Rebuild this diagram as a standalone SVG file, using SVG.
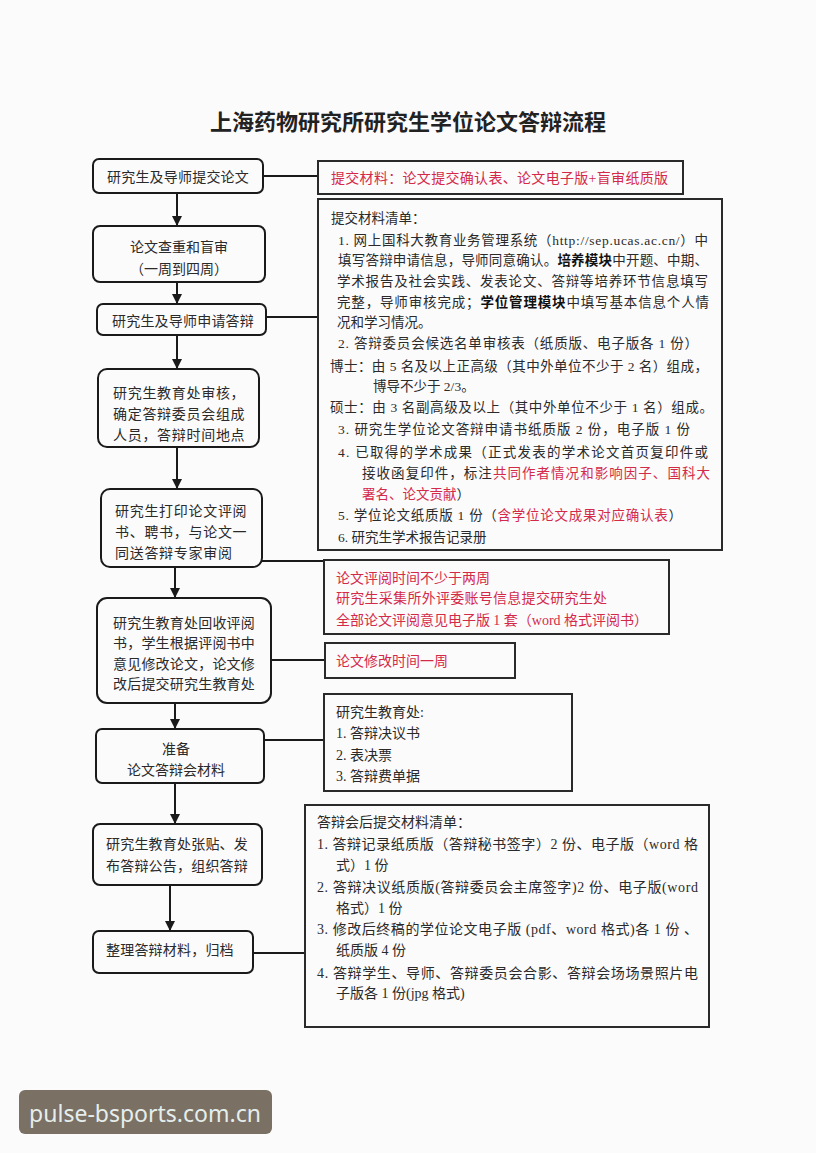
<svg xmlns="http://www.w3.org/2000/svg" width="816" height="1153" viewBox="0 0 816 1153">
<defs>
<marker id="arr" viewBox="0 0 10 10" refX="10" refY="5" markerWidth="10" markerHeight="10" markerUnits="userSpaceOnUse" orient="auto">
<path d="M0,0 L10,5 L0,10 Z" fill="#1a1a1a"/>
</marker>
<style>
.bg{fill:#fcfbfc}
.node{fill:#fcfbfc;stroke:#1a1a1a;stroke-width:2}
.box{fill:#fcfbfc;stroke:#2a2a2a;stroke-width:2}
.t{font-family:"Noto Sans CJK SC","Liberation Sans",sans-serif;font-size:14px;fill:#2a2a2a;dominant-baseline:central}
.c{text-anchor:middle}
.s{font-family:"Liberation Serif","Noto Sans CJK SC",serif;font-size:13.5px;fill:#2a2a2a;dominant-baseline:central}
.s14{font-size:14px}
.r{fill:#d42a4a}
.b{font-weight:bold;fill:#111}
.title{font-family:"Noto Sans CJK SC",sans-serif;font-size:22px;font-weight:bold;fill:#222;text-anchor:middle;dominant-baseline:central}
.ln{stroke:#1a1a1a;stroke-width:2;fill:none}
</style>
</defs>
<rect class="bg" x="0" y="0" width="816" height="1153"/>
<text class="title" x="408" y="120">上海药物研究所研究生学位论文答辩流程</text>

<g id="connectors">
<line class="ln" x1="177" y1="193" x2="177" y2="226" marker-end="url(#arr)"/>
<line class="ln" x1="177" y1="282" x2="177" y2="304" marker-end="url(#arr)"/>
<line class="ln" x1="177" y1="335" x2="177" y2="369" marker-end="url(#arr)"/>
<line class="ln" x1="177" y1="447" x2="177" y2="489" marker-end="url(#arr)"/>
<line class="ln" x1="175" y1="567" x2="175" y2="598" marker-end="url(#arr)"/>
<line class="ln" x1="175" y1="703" x2="175" y2="729" marker-end="url(#arr)"/>
<line class="ln" x1="175" y1="783" x2="175" y2="824" marker-end="url(#arr)"/>
<line class="ln" x1="170" y1="885" x2="170" y2="931" marker-end="url(#arr)"/>
<line class="ln" x1="263" y1="176" x2="318" y2="176"/>
<line class="ln" x1="266" y1="317" x2="318" y2="317"/>
<line class="ln" x1="262" y1="561" x2="324" y2="561"/>
<line class="ln" x1="271" y1="660" x2="325" y2="660"/>
<line class="ln" x1="264" y1="740" x2="324" y2="740"/>
<line class="ln" x1="253" y1="953" x2="305" y2="953"/>
</g>

<g id="n1">
<rect class="node" x="93" y="159" width="170" height="34" rx="6"/>
<text class="t c" x="178" y="176" letter-spacing="0.2">研究生及导师提交论文</text>
</g>
<g id="n2">
<rect class="node" x="93" y="226" width="172" height="56" rx="7"/>
<text class="t c" x="179" y="246">论文查重和盲审</text>
<text class="t c" x="179" y="268">（一周到四周）</text>
</g>
<g id="n3">
<rect class="node" x="97" y="304" width="169" height="31" rx="6"/>
<text class="t c" x="183" y="320" letter-spacing="0.2">研究生及导师申请答辩</text>
</g>
<g id="n4">
<rect class="node" x="98" y="369" width="161" height="78" rx="9"/>
<text class="t" x="113" y="392" letter-spacing="0.7">研究生教育处审核，</text>
<text class="t" x="113" y="413" letter-spacing="0.7">确定答辩委员会组成</text>
<text class="t" x="113" y="434" letter-spacing="0.7">人员，答辩时间地点</text>
</g>
<g id="n5">
<rect class="node" x="101" y="489" width="161" height="78" rx="9"/>
<text class="t" x="115" y="510" letter-spacing="0.7">研究生打印论文评阅</text>
<text class="t" x="115" y="531" letter-spacing="0.7">书、聘书，与论文一</text>
<text class="t" x="115" y="552" letter-spacing="0.7">同送答辩专家审阅</text>
</g>
<g id="n6">
<rect class="node" x="97" y="598" width="174" height="105" rx="10"/>
<text class="t" x="113" y="622" letter-spacing="0.2">研究生教育处回收评阅</text>
<text class="t" x="113" y="642" letter-spacing="0.2">书，学生根据评阅书中</text>
<text class="t" x="113" y="663" letter-spacing="0.2">意见修改论文，论文修</text>
<text class="t" x="113" y="683" letter-spacing="0.2">改后提交研究生教育处</text>
</g>
<g id="n7">
<rect class="node" x="96" y="729" width="168" height="54" rx="6"/>
<text class="t c" x="176" y="748">准备</text>
<text class="t c" x="176" y="769">论文答辩会材料</text>
</g>
<g id="n8">
<rect class="node" x="93" y="824" width="169" height="61" rx="7"/>
<text class="t" x="106" y="843" letter-spacing="0.2">研究生教育处张贴、发</text>
<text class="t" x="106" y="865" letter-spacing="0.2">布答辩公告，组织答辩</text>
</g>
<g id="n9">
<rect class="node" x="93" y="931" width="160" height="42" rx="6"/>
<text class="t" x="106" y="949" letter-spacing="0.2">整理答辩材料，归档</text>
</g>

<g id="boxA">
<rect class="box" x="318" y="161" width="365" height="33"/>
<text class="s s14 r" x="331" y="178" textLength="337" lengthAdjust="spacing">提交材料：论文提交确认表、论文电子版+盲审纸质版</text>
</g>

<g id="boxB">
<rect class="box" x="318" y="199" width="404" height="351"/>
<text class="s" x="331" y="218">提交材料清单：</text>
<text class="s" x="338" y="240" textLength="370" lengthAdjust="spacing">1.  网上国科大教育业务管理系统（http://sep.ucas.ac.cn/）中</text>
<text class="s" x="338" y="260" textLength="370" lengthAdjust="spacing">填写答辩申请信息，导师同意确认。<tspan class="b">培养模块</tspan>中开题、中期、</text>
<text class="s" x="337" y="281" textLength="371" lengthAdjust="spacing">学术报告及社会实践、发表论文、答辩等培养环节信息填写</text>
<text class="s" x="337" y="302" textLength="372" lengthAdjust="spacing">完整，导师审核完成；<tspan class="b">学位管理模块</tspan>中填写基本信息个人情</text>
<text class="s" x="337" y="322">况和学习情况。</text>
<text class="s" x="338" y="343" textLength="360" lengthAdjust="spacing">2.  答辩委员会候选名单审核表（纸质版、电子版各 1 份）</text>
<text class="s" x="330" y="366" textLength="378" lengthAdjust="spacing">博士：由 5 名及以上正高级（其中外单位不少于 2 名）组成，</text>
<text class="s" x="373" y="386">博导不少于 2/3。</text>
<text class="s" x="330" y="407" textLength="383" lengthAdjust="spacing">硕士：由 3 名副高级及以上（其中外单位不少于 1 名）组成。</text>
<text class="s" x="338" y="429" textLength="352" lengthAdjust="spacing">3.  研究生学位论文答辩申请书纸质版 2 份，电子版 1 份</text>
<text class="s" x="338" y="452" textLength="370" lengthAdjust="spacing">4.  已取得的学术成果（正式发表的学术论文首页复印件或</text>
<text class="s" x="362" y="473" textLength="348" lengthAdjust="spacing">接收函复印件，标注<tspan class="r">共同作者情况和影响因子、国科大</tspan></text>
<text class="s" x="362" y="494"><tspan class="r">署名、论文贡献</tspan>）</text>
<text class="s" x="338" y="515" textLength="344" lengthAdjust="spacing">5.  学位论文纸质版 1 份（<tspan class="r">含学位论文成果对应确认表</tspan>）</text>
<text class="s" x="338" y="537">6.  研究生学术报告记录册</text>
</g>

<g id="boxC">
<rect class="box" x="324" y="560" width="345" height="74"/>
<text class="s s14 r" x="336" y="578">论文评阅时间不少于两周</text>
<text class="s s14 r" x="336" y="598" textLength="271" lengthAdjust="spacing">研究生采集所外评委账号信息提交研究生处</text>
<text class="s s14 r" x="336" y="620" textLength="312" lengthAdjust="spacing">全部论文评阅意见电子版 1 套（word 格式评阅书）</text>
</g>

<g id="boxD">
<rect class="box" x="325" y="643" width="190" height="35"/>
<text class="s s14 r" x="336" y="661">论文修改时间一周</text>
</g>

<g id="boxE">
<rect class="box" x="324" y="694" width="248" height="97"/>
<text class="s s14" x="336" y="712">研究生教育处:</text>
<text class="s s14" x="336" y="733">1.  答辩决议书</text>
<text class="s s14" x="336" y="755">2.  表决票</text>
<text class="s s14" x="336" y="776">3.  答辩费单据</text>
</g>

<g id="boxF">
<rect class="box" x="305" y="805" width="404" height="222"/>
<text class="s s14" x="317" y="822">答辩会后提交材料清单：</text>
<text class="s s14" x="317" y="844" textLength="381" lengthAdjust="spacing">1.  答辩记录纸质版（答辩秘书签字）2 份、电子版（word 格</text>
<text class="s s14" x="336" y="865">式）1 份</text>
<text class="s s14" x="317" y="887" textLength="381" lengthAdjust="spacing">2.  答辩决议纸质版(答辩委员会主席签字)2 份、电子版(word</text>
<text class="s s14" x="336" y="908">格式）1 份</text>
<text class="s s14" x="317" y="929" textLength="381" lengthAdjust="spacing">3.  修改后终稿的学位论文电子版 (pdf、word 格式)各 1 份 、</text>
<text class="s s14" x="336" y="950">纸质版 4 份</text>
<text class="s s14" x="317" y="973" textLength="381" lengthAdjust="spacing">4.  答辩学生、导师、答辩委员会合影、答辩会场场景照片电</text>
<text class="s s14" x="336" y="993">子版各 1 份(jpg 格式)</text>
</g>

<g id="watermark">
<rect x="19" y="1090" width="253" height="44" rx="6" fill="#7a7064"/>
<text x="145" y="1113" font-family="'Noto Sans','Open Sans',sans-serif" font-size="23" fill="#e6eeec" text-anchor="middle" dominant-baseline="central">pulse-bsports.com.cn</text>
</g>
</svg>
